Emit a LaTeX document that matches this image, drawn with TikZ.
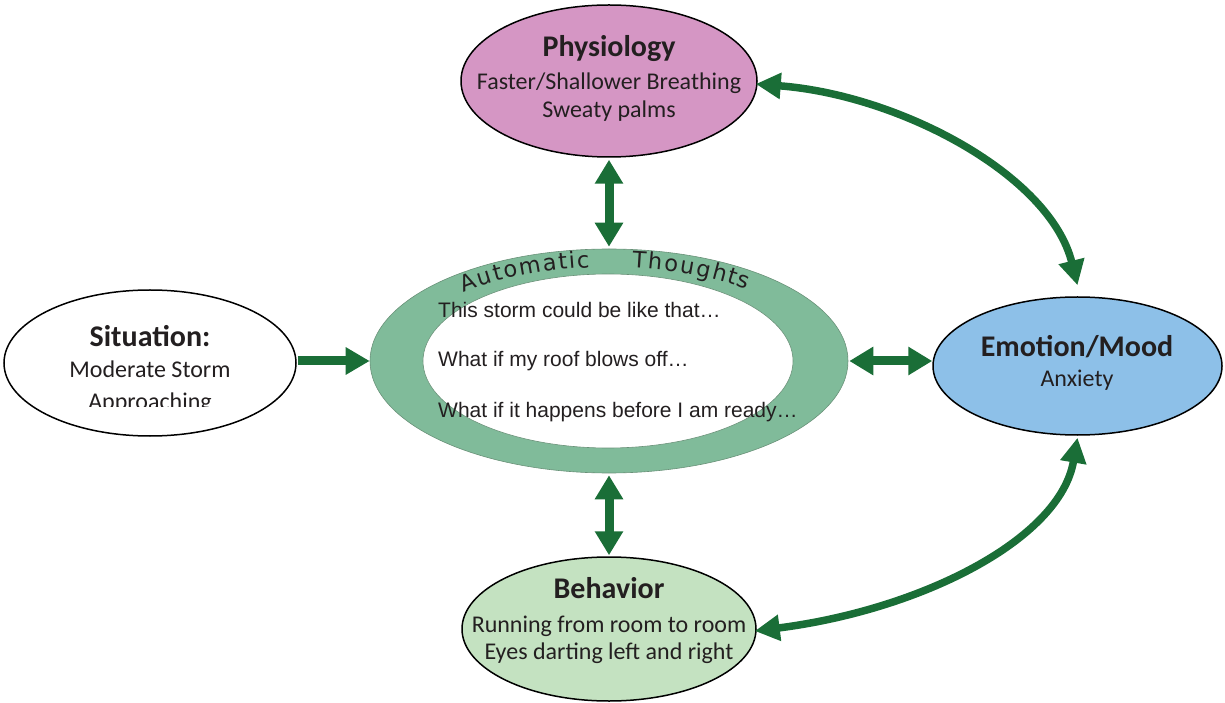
\documentclass[tikz,border=0pt]{standalone}
\usepackage{fontspec}
\setmainfont{Carlito}
\newfontfamily\arialf{Liberation Sans}
\newfontfamily\arcf{DejaVu Sans}
\usetikzlibrary{arrows.meta,shapes.geometric}
\definecolor{physc}{RGB}{213,150,196}
\definecolor{emoc}{RGB}{141,192,232}
\definecolor{behc}{RGB}{196,226,193}
\definecolor{ringc}{RGB}{128,187,154}
\definecolor{arrc}{RGB}{26,110,55}
\definecolor{txtc}{RGB}{35,31,32}
\definecolor{ringedge}{RGB}{105,145,120}
\begin{document}
\begin{tikzpicture}[x=1pt,y=1pt,
  oval/.style={ellipse, draw=black, line width=1.5pt, inner sep=0pt},
  ringoval/.style={ellipse, draw=ringedge, line width=0.6pt, inner sep=0pt},
  head/.style={font=\fontsize{30}{36}\selectfont\bfseries, text=txtc, anchor=base, inner sep=0pt},
  body/.style={font=\fontsize{24}{28}\selectfont, text=txtc, anchor=base, inner sep=0pt},
  thought/.style={font=\arialf\fontsize{21}{25}\selectfont, text=txtc, anchor=base west, inner sep=0pt},
  arcletter/.style={font=\arcf\fontsize{22.5}{23}\selectfont, text=txtc, anchor=base, inner sep=0pt},
  fat/.style={line width=9pt, draw=arrc},
  fatboth/.style={fat, {Triangle[width=27pt,length=24pt]}-{Triangle[width=27pt,length=24pt]}},
  fatone/.style={fat, -{Triangle[width=26pt,length=24pt]}},
  curvy/.style={line width=7.5pt, draw=arrc, {Triangle[width=25pt,length=25pt]}-{Triangle[width=25pt,length=25pt]}}
]
\useasboundingbox (0,0) rectangle (1225,702);

% ovals
\node[oval, fill=physc, minimum width=296pt, minimum height=152pt] (phys) at (609,621) {};
\node[oval, fill=white, minimum width=292pt, minimum height=146pt] (sit) at (150,339) {};
\node[oval, fill=emoc, minimum width=289pt, minimum height=138pt] (emo) at (1077.5,336) {};
\node[oval, fill=behc, minimum width=294pt, minimum height=144pt] (beh) at (609,73) {};
\node[ringoval, fill=ringc, minimum width=478pt, minimum height=224pt] (ring) at (609,341) {};
\node[ringoval, fill=white, minimum width=370pt, minimum height=174pt] (inner) at (608,341) {};

% ring title, letter by letter along an ellipse
\foreach \ch/\t [count=\i] in {A/130.79, u/125.30, t/121.10, o/117.23, m/111.44, a/106.02, t/102.39, i/99.91, c/96.91,
                               T/81.87, h/77.61, o/73.14, u/68.56, g/63.83, h/59.06, t/55.03, s/51.32}
  \node[arcletter, rotate={atan2(-94*cos(\t), 212*sin(\t))}] (ttl\i)
     at ({609+212*cos(\t)}, {341+94*sin(\t)}) {\ch};

% texts
\node[head] (physT) at (609,645) {Physiology};
\node[body] (physA) at (609,612) {Faster/Shallower Breathing};
\node[body] (physB) at (609,584) {Sweaty palms};

\node[head] (sitT) at (150,355) {Situation:};
\node[body] (sitA) at (150,324) {Moderate Storm};
\begin{scope}
  \clip (60,295.5) rectangle (240,320);
  \node[body] (sitB) at (150,293) {Approaching};
\end{scope}

\node[head] (emoT) at (1077,345) {Emotion/Mood};
\node[body] (emoA) at (1077,315) {Anxiety};

\node[head] (behT) at (609,104) {Behavior};
\node[body] (behA) at (609,70) {Running from room to room};
\node[body] (behB) at (609,43) {Eyes darting left and right};

\node[thought] (th1) at (438,384) {This storm could be like that…};
\node[thought] (th2) at (438,335) {What if my roof blows off…};
\node[thought] (th3) at (438,285) {What if it happens before I am ready…};

% arrows
\draw[fatboth] ([yshift=-2pt]phys.south) -- ([yshift=2pt]ring.north);
\draw[fatboth] ([yshift=-2pt]ring.south) -- ([yshift=1pt]beh.north);
\draw[fatboth] ([xshift=1pt]ring.east) -- (ring.east -| emo.west);
\draw[fatone] ([xshift=1pt]ring.west -| sit.east) -- (ring.west);
\draw[curvy] ([shift={(-2pt,-3pt)}]phys.east) .. controls (900,607) and (1050,527) .. ([yshift=11pt]emo.north);
\draw[curvy] ([yshift=-2pt]emo.south) .. controls (1060,162) and (920,92) .. ([shift={(-2pt,-2pt)}]beh.east);
\end{tikzpicture}
\end{document}
